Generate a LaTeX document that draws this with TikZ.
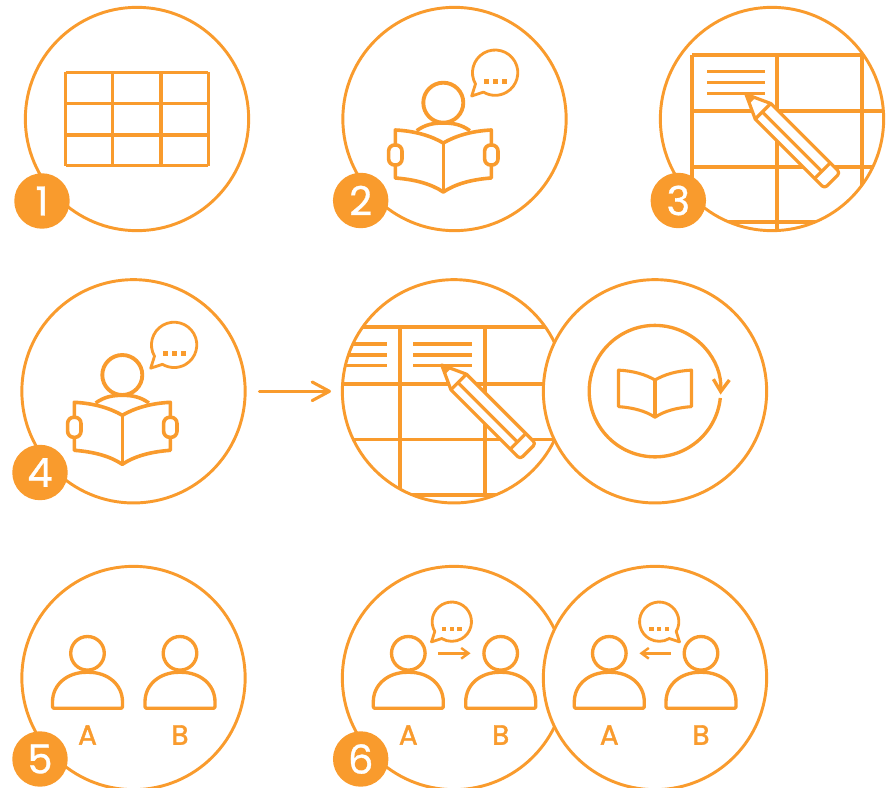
\documentclass[tikz,border=0pt]{standalone}
\usepackage{fontspec}
\setmainfont{Poppins}[FakeBold=0.8]
\newfontfamily\lblfont{Poppins}[FakeBold=1.6]
\usetikzlibrary{arrows.meta}
\definecolor{ora}{RGB}{249,155,45}
\tikzset{
  ring/.style={
    draw=ora, circle, fill=white, minimum size=167.5pt, inner sep=0pt, outer sep=0pt, line width=2.2pt
  },
  badge/.style={
    circle, fill=ora, text=white, minimum size=41.6pt, inner sep=0pt, font=\fontsize{30}{30}\selectfont
  },
  tline/.style={draw=ora, line width=2.5pt},
  icon/.style={draw=ora, line width=2.7pt, line join=round},
  thin icon/.style={draw=ora, line width=2.3pt, line join=round},
  head/.style={
    draw=ora, circle, minimum size=25.2pt, inner sep=0pt, outer sep=0pt, line width=2.5pt
  },
  bighead/.style={head, minimum size=30pt, line width=2.9pt, fill=white},
  hand/.style={
    draw=ora, fill=white, rectangle, rounded corners=4.5pt, minimum width=10pt, minimum height=15pt,
    inner sep=0pt, line width=2.7pt
  },
  lbl/.style={text=ora, inner sep=0pt, font=\lblfont\fontsize{21}{21}\selectfont},
  arw/.style={draw=ora, line width=2.3pt, line cap=round, -{Straight Barb[round,length=13pt,width=14pt]}},
  smallarw/.style={draw=ora, line width=1.8pt, -{Straight Barb[length=5.5pt,width=8pt]}},
  pics/bubble/.style={code={
    \draw[icon,line width=2.1pt] (-19.5,11.3) arc[start angle=210,end angle=-121,radius=17pt] -- (-23.3,23.3) -- cycle;
    \foreach \d in {-9,0,9} {
      \fill[ora] (\d-2.5,6) rectangle (\d+2.5,11);
    }
  }},
  pics/openbook/.style={code={
    \draw[#1,fill=white] (0,0) .. controls (-12,-7) and (-28,-12) .. (-48,-13) -- (-48,35)
      .. controls (-28,36.5) and (-12,41) .. (0,49)
      .. controls (12,41) and (28,36.5) .. (48,35) -- (48,-13)
      .. controls (28,-12) and (12,-7) .. (0,0) -- cycle;
    \draw[#1] (0,0) -- (0,49);
  }},
  pics/reader/.style={code={
    \node[bighead] (-head) at (0,-40.3) {};
    \draw[icon] (-26.6,-12.3) .. controls (-18,-18.5) and (-10,-20) .. (0,-20)
      .. controls (10,-20) and (18,-18.5) .. (26.6,-12.3);
    \pic {openbook=icon};
    \node[hand] (-handl) at (-48,12) {};
    \node[hand] (-handr) at (48,12) {};
  }},
  pics/person/.style={code={
    \node[head] (-head) at (0,0) {};
    \draw[icon,line width=2.5pt,rounded corners=1pt] (-35,50) .. controls (-35,31) and (-20,19) .. (0,19)
      .. controls (20,19) and (35,31) .. (35,50) -- (35,55) -- (-35,55) -- cycle;
  }},
  pics/pencil/.style={code={
    \draw[icon,line width=2.4pt,fill=white] (0,0) -- (24,11) [rounded corners=2.5pt] -- (122,11) -- (122,-11)
      [sharp corners] -- (24,-11) -- cycle;
    \draw[icon,line width=2.4pt] (24,11) -- (24,-11);
    \draw[icon,line width=2.4pt] (24,1) -- (108,1);
    \draw[icon,line width=2.4pt] (108,11) -- (108,-11);
    \fill[ora] (0,0) -- (9,4) -- (9,-4) -- cycle;
  }}
}
\begin{document}
\begin{tikzpicture}[x=.75pt,y=-.75pt]
 \useasboundingbox (0,0) rectangle (892,788);

 \foreach \n/\x/\y in {1/137/119, 2/454.5/119, 3/772/119, 4/133.5/391.3, 4b/454/391.3, 5/133.5/678, 6/454/678, 6b/655/678} {
   \node[ring] (c\n) at (\x,\y) {};
 }

 \foreach \x in {65.7,112.7,161,208.3} \draw[tline] (\x,72.3) -- (\x,165.7);
 \foreach \y in {72.3,103.3,135,165.7} \draw[tline] (65.7,\y) -- (208.3,\y);

 \pic (r2) at (443.3,143) {reader};
 \pic at (495,72.7) {bubble};

 \begin{scope}
  \clip (c3.center) circle[radius=84pt];
  \foreach \x in {692,777,862} \draw[tline] (\x,55) -- (\x,300);
  \draw[tline] (692,55) -- (862,55);
  \foreach \y in {111,167,222} \draw[tline] (692,\y) -- (900,\y);
  \foreach \y in {71.5,82.5,93.5} \draw[tline] (707,\y) -- (765,\y);
 \end{scope}
 \pic[rotate=-45] at (746,94.3) {pencil};

 \pic (r4) at (122.3,415.3) {reader};
 \pic at (174,344.9) {bubble};

 \begin{scope}
  \clip (c4b.center) circle[radius=84pt];
  \foreach \x in {400,485} \draw[tline] (\x,327) -- (\x,495);
  \foreach \y in {327,384,439.5,495} \draw[tline] (300,\y) -- (600,\y);
  \foreach \y in {344,355,365.5} {
    \draw[tline] (300,\y) -- (386.7,\y);
    \draw[tline] (413.3,\y) -- (471.7,\y);
  }
 \end{scope}
 \pic[rotate=-45] at (441.7,365) {pencil};

 \node[ring] (c4c) at (655,391.3) {};
 \pic[scale=.76] at (655,380) {openbook=thin icon};
 \coordinate (rs) at (720.3,398);
 \draw[icon,line width=2.5pt,-{Straight Barb[length=9pt,width=12pt]}] (rs) arc[start angle=-6,end angle=-363,radius=49.3pt];

 \draw[arw,shorten <=10.7pt,shorten >=8.5pt] (c4) -- (c4b);

 \pic (a5) at (87.5,653.3) {person};
 \pic (b5) at (180,653.3) {person};
 \node[lbl] (la5) at (87.5,735) {A};
 \node[lbl] (lb5) at (180,735) {B};

 \pic (a6) at (408.3,653.3) {person};
 \pic (b6) at (500.7,653.3) {person};
 \node[lbl] (la6) at (408.3,735) {A};
 \node[lbl] (lb6) at (500.7,735) {B};
 \pic[scale=.867] at (451.7,621.7) {bubble};
 \draw[smallarw,shorten <=10pt,shorten >=10pt] (a6-head) -- (b6-head);

 \pic (a6b) at (609.3,653.3) {person};
 \pic (b6b) at (701,653.3) {person};
 \node[lbl] (la6b) at (609.3,735) {A};
 \node[lbl] (lb6b) at (701,735) {B};
 \pic[xscale=-.867,yscale=.867] at (659.3,621.7) {bubble};
 \draw[smallarw,shorten <=10pt,shorten >=10pt] (b6b-head) -- (a6b-head);

 \foreach \n/\x/\y in {1/42/201, 2/360.7/200.5, 3/678.3/200.5, 4/40/472.5, 5/40/759, 6/360.7/759} {
   \node[badge] (b\n) at (\x,\y) {\n};
 }
\end{tikzpicture}
\end{document}
